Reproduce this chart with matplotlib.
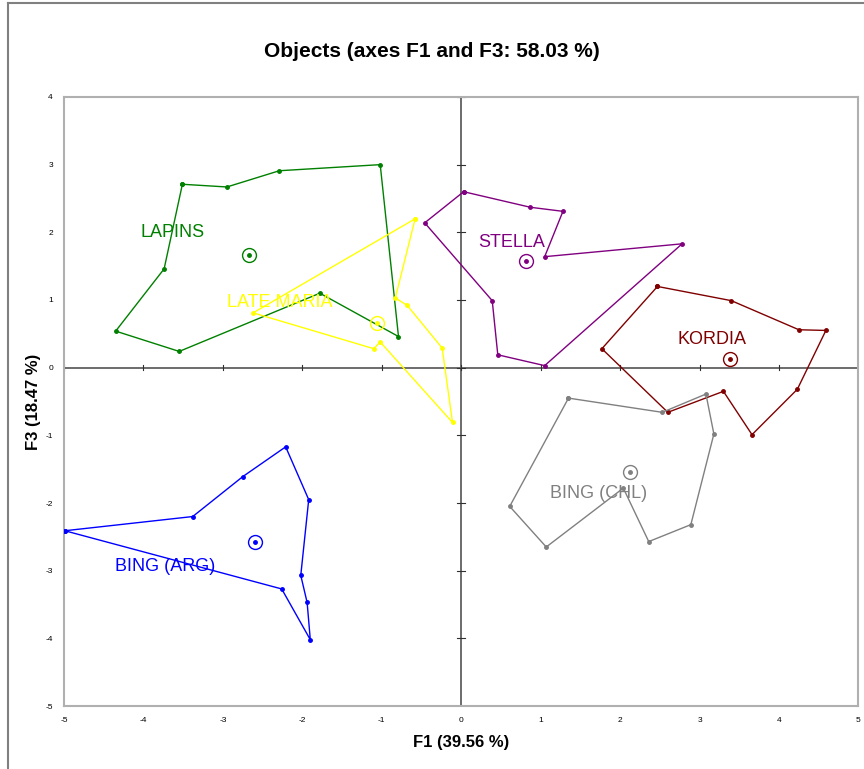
import matplotlib
matplotlib.use('Agg')
import matplotlib.pyplot as plt
from matplotlib.lines import Line2D

plt.rcParams['font.family'] = ['Liberation Sans', 'DejaVu Sans']
plt.rcParams['axes.unicode_minus'] = False

# convex-ish hulls of the observations, per cultivar (F1, F3)
lapins_x = [-3.51, -2.95, -2.29, -1.02, -0.79, -1.78, -3.55, -4.35, -3.74]
lapins_y = [2.71, 2.67, 2.91, 3.00, 0.46, 1.10, 0.24, 0.54, 1.46]
latemaria_x = [-0.58, -0.83, -0.68, -0.24, -0.11, -1.02, -1.10, -2.62]
latemaria_y = [2.20, 1.03, 0.92, 0.29, -0.81, 0.38, 0.28, 0.81]
stella_x = [0.03, 0.87, 1.28, 1.05, 2.78, 1.05, 0.46, 0.39, -0.46]
stella_y = [2.60, 2.37, 2.31, 1.64, 1.83, 0.03, 0.19, 0.99, 2.14]
kordia_x = [2.47, 3.40, 4.25, 4.59, 4.23, 3.66, 3.30, 2.60, 1.77]
kordia_y = [1.20, 0.99, 0.56, 0.55, -0.32, -0.99, -0.35, -0.66, 0.28]
bingchl_x = [1.35, 2.53, 3.08, 3.18, 2.89, 2.36, 2.04, 1.07, 0.61]
bingchl_y = [-0.45, -0.66, -0.39, -0.98, -2.32, -2.57, -1.78, -2.65, -2.05]
bingarg_x = [-4.99, -3.38, -2.75, -2.21, -1.92, -2.02, -1.94, -1.90, -2.26]
bingarg_y = [-2.41, -2.20, -1.61, -1.17, -1.95, -3.07, -3.47, -4.02, -3.27]

names = ['LAPINS', 'LATE MARIA', 'STELLA', 'KORDIA', 'BING (CHL)', 'BING (ARG)']
centroid_x = [-2.67, -1.06, 0.82, 3.38, 2.12, -2.59]
centroid_y = [1.67, 0.66, 1.57, 0.13, -1.54, -2.58]

hulls = [(lapins_x, lapins_y), (latemaria_x, latemaria_y), (stella_x, stella_y),
         (kordia_x, kordia_y), (bingchl_x, bingchl_y), (bingarg_x, bingarg_y)]
colors = ['#008000', '#FFFF00', '#800080', '#800000', '#808080', '#0000FF']
# where each name sits, relative to the centroid
label_offsets = [(-0.97, 0.32), (-1.22, 0.30), (-0.18, 0.28), (-0.22, 0.29), (-0.39, -0.32), (-1.14, -0.36)]

fig = plt.figure(figsize=(8.64, 7.69), dpi=100)
ax = fig.add_axes([0.0741, 0.0819, 0.9195, 0.792])

# thin frame around the whole chart (top and left visible)
fig.add_artist(Line2D([0.0093, 0.0093], [0.0, 0.9955], color='#808080', lw=1.5))
fig.add_artist(Line2D([0.0093, 1.0], [0.9955, 0.9955], color='#808080', lw=1.5))

ax.axhline(0, color='#606060', lw=1.3, zorder=1)
ax.axvline(0, color='#606060', lw=1.3, zorder=1)
for t in range(-5, 6):
    ax.plot([t, t], [-0.04, 0.04], color='#303030', lw=0.8, zorder=1)
for t in range(-5, 5):
    ax.plot([-0.05, 0.05], [t, t], color='#303030', lw=0.8, zorder=1)

for (hx, hy), c, name, cx, cy, (dx, dy) in zip(hulls, colors, names, centroid_x, centroid_y, label_offsets):
    ax.plot(hx + hx[:1], hy + hy[:1], color=c, lw=1.0, marker='o', ms=2.5, zorder=3)
    ax.plot(cx, cy, 'o', color=c, ms=2.5, zorder=4)
    ax.plot(cx, cy, 'o', mfc='none', mec=c, ms=10, mew=1.0, zorder=4)
    ax.text(cx + dx, cy + dy, name, color=c, fontsize=13, ha='center', va='center', zorder=5)

ax.set_xlim(-5, 5)
ax.set_ylim(-5, 4)
ax.set_xticks(range(-5, 6))
ax.set_yticks(range(-5, 5))
ax.tick_params(length=0, labelsize=6, pad=8)
for s in ax.spines.values():
    s.set_color('#b0b0b0')
    s.set_linewidth(1.5)

narrow = ['Liberation Sans Narrow', 'Liberation Sans', 'DejaVu Sans']
ax.set_xlabel('F1 (39.56 %)', fontsize=12, fontweight='bold', family=narrow, labelpad=8)
ax.set_ylabel('F3 (18.47 %)', fontsize=12, fontweight='bold', family=narrow, labelpad=3)
fig.suptitle('Objects (axes F1 and F3: 58.03 %)', fontsize=15, fontweight='bold', y=0.945)

fig.savefig('out.png', dpi=100)
